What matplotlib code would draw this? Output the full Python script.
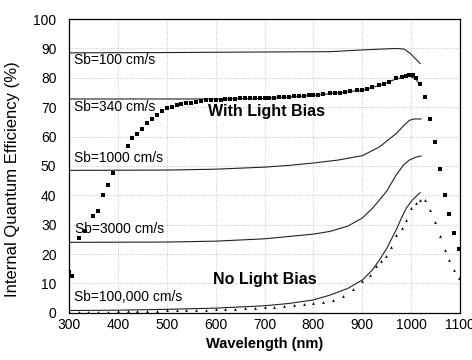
import matplotlib.pyplot as plt

plt.rcParams['font.family'] = ['Liberation Sans', 'DejaVu Sans']

# Curvas simuladas (linhas)
wl_sb100 = [300, 500, 700, 833, 900, 969, 985, 998, 1008, 1018]
sb100 = [88.5, 88.6, 88.8, 88.9, 89.5, 90.0, 89.8, 88.3, 86.6, 84.9]

wl_sb340 = [300, 500, 600, 700, 800, 833, 900, 935, 969, 996, 1009, 1018]
sb340 = [72.8, 72.8, 72.8, 73.0, 74.0, 74.6, 75.8, 77.4, 79.6, 80.6, 79.6, 77.6]

wl_sb1000 = [300, 500, 600, 700, 750, 800, 850, 900, 935, 950, 969, 985, 996, 1005, 1020]
sb1000 = [48.5, 48.6, 48.9, 49.6, 50.2, 51.0, 52.0, 53.5, 56.5, 58.5, 61.0, 63.8, 65.5, 66.0, 66.0]

wl_sb3000 = [300, 500, 600, 700, 750, 800, 833, 870, 900, 920, 935, 950, 969, 985, 996, 1010, 1020]
sb3000 = [24.0, 24.1, 24.4, 25.2, 26.0, 26.8, 27.7, 29.5, 32.3, 35.5, 38.4, 41.5, 46.9, 50.5, 52.0, 53.0, 53.4]

wl_sb1e5 = [300, 400, 500, 600, 650, 700, 750, 800, 833, 870, 900, 920, 935, 950, 969, 980, 990, 1002, 1018]
sb1e5 = [0.8, 0.9, 1.2, 1.6, 2.0, 2.4, 3.2, 4.4, 6.0, 8.3, 11.2, 14.5, 18.0, 22.0, 28.2, 32.3, 35.7, 38.4, 40.9]

# Medidas com luz de polarizacao (quadrados)
wl_bias = [300, 307, 320, 333, 350, 360, 370, 380, 390, 420, 430, 440, 450, 460, 470,
           480, 490, 500, 510, 520, 530, 540, 550, 560, 570, 580, 590, 600, 610, 620,
           630, 640, 650, 660, 670, 680, 690, 700, 710, 720, 730, 740, 750, 760, 770,
           780, 790, 800, 810, 820, 833, 845, 855, 865, 875, 890, 900, 910, 920, 935,
           945, 955, 969, 980, 990, 996, 1003, 1009, 1018, 1029, 1039, 1049, 1059,
           1068, 1078, 1088, 1098]
iqe_bias = [14.0, 12.5, 25.5, 28.0, 33.0, 34.7, 40.0, 43.6, 47.7, 56.8, 59.5, 61.0, 62.5,
            64.5, 66.0, 67.3, 68.7, 69.6, 70.2, 70.8, 71.1, 71.4, 71.6, 71.9, 72.1, 72.3,
            72.4, 72.5, 72.6, 72.7, 72.8, 72.9, 73.0, 73.0, 73.1, 73.1, 73.2, 73.2, 73.3,
            73.3, 73.4, 73.5, 73.6, 73.7, 73.8, 73.9, 74.0, 74.1, 74.3, 74.4, 74.7, 74.9,
            75.0, 75.3, 75.5, 75.7, 75.9, 76.3, 76.8, 77.6, 78.0, 78.6, 79.8, 80.3, 80.7,
            80.9, 81.0, 79.8, 77.8, 73.6, 66.0, 58.0, 49.0, 40.1, 33.7, 27.3, 21.8]

# Medidas sem luz de polarizacao (triangulos)
wl_nobias = [300, 320, 340, 360, 380, 400, 420, 440, 460, 480, 500, 520, 540, 560, 580,
             600, 620, 640, 660, 680, 700, 720, 740, 760, 780, 800, 820, 840, 860, 880,
             900, 915, 927, 938, 948, 958, 969, 980, 990, 1000, 1009, 1018, 1029, 1039,
             1049, 1059, 1068, 1078, 1088, 1098]
iqe_nobias = [0.2, 0.3, 0.3, 0.4, 0.4, 0.5, 0.5, 0.6, 0.6, 0.7, 0.8, 0.8, 0.9, 1.0, 1.1,
              1.2, 1.3, 1.4, 1.6, 1.7, 1.9, 2.1, 2.4, 2.7, 3.0, 3.3, 3.7, 4.3, 5.8, 8.0,
              10.7, 13.0, 15.8, 17.5, 19.2, 22.5, 26.5, 29.0, 31.6, 35.7, 37.4, 38.4, 38.3,
              35.0, 31.0, 26.2, 21.4, 18.0, 14.6, 12.0]

fig = plt.figure(figsize=(4.72, 3.6), dpi=100)
ax = fig.add_axes([0.146, 0.131, 0.829, 0.816])

cor = '#222222'
for wl, v in [(wl_sb100, sb100), (wl_sb340, sb340), (wl_sb1000, sb1000),
              (wl_sb3000, sb3000), (wl_sb1e5, sb1e5)]:
    ax.plot(wl, v, color=cor, lw=0.8)

ax.plot(wl_bias, iqe_bias, 's', color='black', ms=2.4, mew=0)
ax.plot(wl_nobias, iqe_nobias, '^', color='black', ms=2.0, mew=0)

# Textos
ax.text(310, 86.0, 'Sb=100 cm/s', fontsize=10, va='center')
ax.text(310, 70.0, 'Sb=340 cm/s', fontsize=10, va='center')
ax.text(584, 68.4, 'With Light Bias', fontsize=11.5, fontweight='bold', va='center')
ax.text(310, 52.7, 'Sb=1000 cm/s', fontsize=10, va='center')
ax.text(312, 28.6, 'Sb=3000 cm/s', fontsize=10, va='center')
ax.text(594, 11.2, 'No Light Bias', fontsize=11.5, fontweight='bold', va='center')
ax.text(310, 5.4, 'Sb=100,000 cm/s', fontsize=10, va='center')

ax.set_xlim(300, 1100)
ax.set_ylim(0, 100)
ax.set_xticks(range(300, 1101, 100))
ax.set_yticks(range(0, 101, 10))
ax.tick_params(length=0, labelsize=10)
ax.tick_params(axis='x', pad=4)
ax.tick_params(axis='y', pad=9)
ax.grid(True, color='#bbbbbb', ls=':', lw=0.6)
for s in ax.spines.values():
    s.set_linewidth(0.9)

ax.set_xlabel('Wavelength (nm)', fontsize=10.5, fontweight='bold', labelpad=3)
ax.set_ylabel('Internal Quantum Efficiency (%)', fontsize=12)
ax.yaxis.set_label_coords(-0.125, 0.455)

fig.savefig('out.png', dpi=100)
